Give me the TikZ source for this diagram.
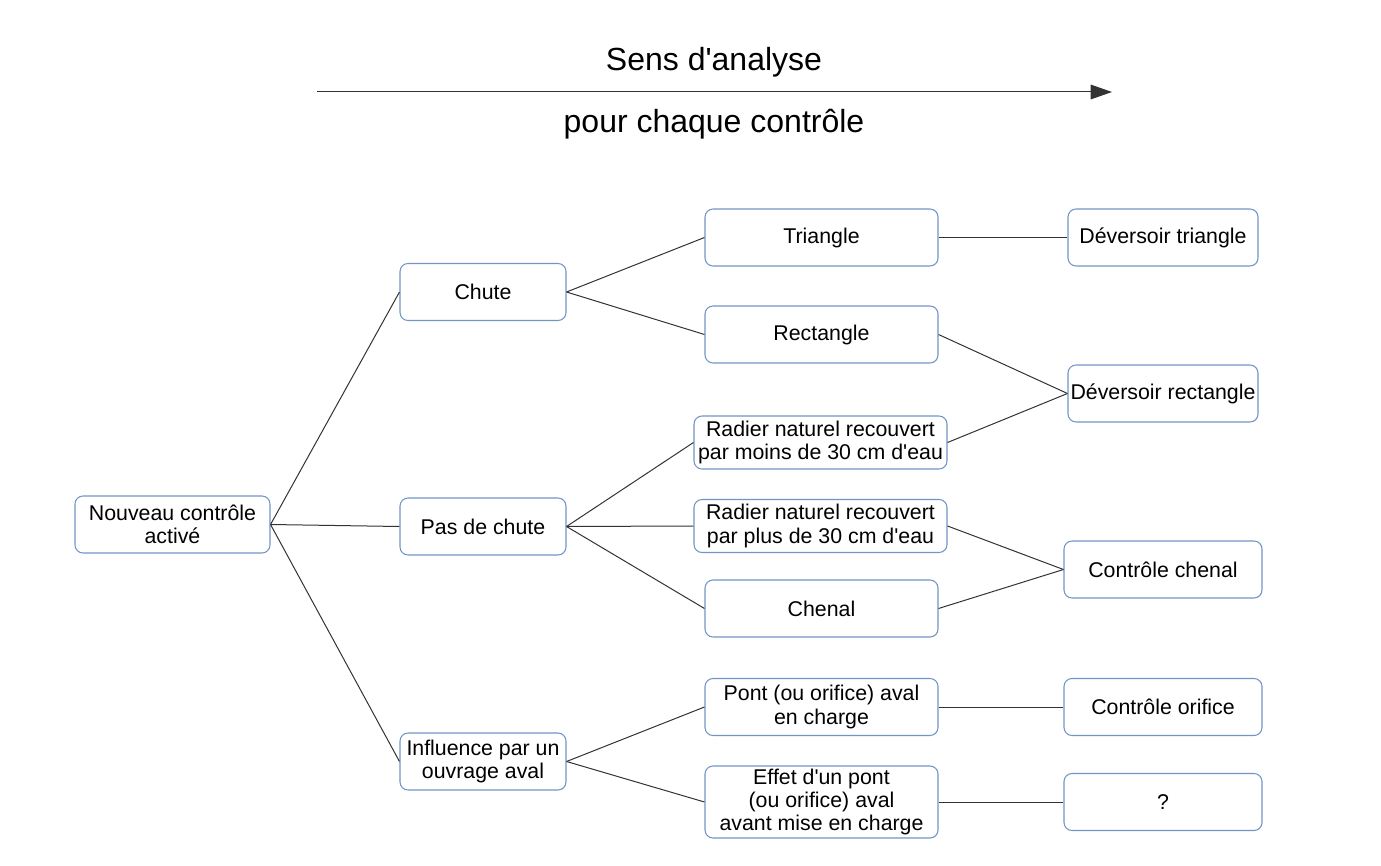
\documentclass[tikz,border=0pt]{standalone}
\usepackage{fontspec}
\setmainfont{Liberation Sans}[Ligatures=TeXReset]
\usetikzlibrary{arrows.meta}
\definecolor{boxblue}{HTML}{7295C7}
\definecolor{linegrey}{HTML}{333333}
\tikzset{
  box/.style={draw=boxblue, line width=0.8pt, rounded corners=6pt, fill=white,
    align=center, inner sep=0pt, font=\fontsize{16}{17.5}\selectfont,
    minimum height=42.75pt},
  wroot/.style={minimum width=146.25pt},
  wone/.style={minimum width=124.5pt},
  wtwo/.style={minimum width=174.75pt},
  wrad/.style={minimum width=189.75pt, minimum height=39.75pt},
  wthree/.style={minimum width=148.5pt},
  wdev/.style={minimum width=142.5pt},
  conn/.style={draw=linegrey, line width=0.75pt},
  title/.style={font=\fontsize{24}{28}\selectfont, inner sep=0pt}
}
\begin{document}
\begin{tikzpicture}[x=0.75pt,y=-0.75pt]
\useasboundingbox (0,0) rectangle (1381,866);
% header
\coordinate (as) at (317,92);
\coordinate (ae) at (1112,92);
\draw[conn, -{Triangle[length=16pt,width=11pt]}] (as) -- (ae);
\node[title] (t1) at (714,62) {Sens d'analyse};
\node[title] (t2) at (714,124) {pour chaque contrôle};
% nodes
\node[box,wroot] (root) at (172.5,524.5) {Nouveau contrôle\\activé};
\node[box,wone] (chute) at (483,292) {Chute};
\node[box,wone] (pas) at (483,526.5) {Pas de chute};
\node[box,wone] (infl) at (483,761.5) {Influence par un\\ouvrage aval};
\node[box,wtwo] (tri) at (821.5,237.5) {Triangle};
\node[box,wtwo] (rect) at (821.5,334.5) {Rectangle};
\node[box,wrad] (rmoins) at (820.5,442.5) {Radier naturel recouvert\\par moins de 30 cm d'eau};
\node[box,wrad] (rplus) at (820.5,526) {Radier naturel recouvert\\par plus de 30 cm d'eau};
\node[box,wtwo] (chenal) at (821.5,608.5) {Chenal};
\node[box,wtwo] (pont) at (821.5,707) {Pont (ou orifice) aval\\en charge};
\node[box,wtwo,minimum height=54pt] (effet) at (821.5,802) {Effet d'un pont\\(ou orifice) aval\\avant mise en charge};
\node[box,wdev] (dtri) at (1163,237.5) {Déversoir triangle};
\node[box,wdev] (drect) at (1163,393.5) {Déversoir rectangle};
\node[box,wthree] (cchen) at (1163,569.5) {Contrôle chenal};
\node[box,wthree] (corif) at (1163,707) {Contrôle orifice};
\node[box,wthree] (q) at (1163,802) {?};
% connectors
\draw[conn] (root.east) -- (chute.west);
\draw[conn] (root.east) -- (pas.west);
\draw[conn] (root.east) -- (infl.west);
\draw[conn] (chute.east) -- (tri.west);
\draw[conn] (chute.east) -- (rect.west);
\draw[conn] (pas.east) -- (rmoins.west);
\draw[conn] (pas.east) -- (rplus.west);
\draw[conn] (pas.east) -- (chenal.west);
\draw[conn] (infl.east) -- (pont.west);
\draw[conn] (infl.east) -- (effet.west);
\draw[conn] (tri.east) -- (dtri.west);
\draw[conn] (rect.east) -- (drect.west);
\draw[conn] (rmoins.east) -- (drect.west);
\draw[conn] (rplus.east) -- (cchen.west);
\draw[conn] (chenal.east) -- (cchen.west);
\draw[conn] (pont.east) -- (corif.west);
\draw[conn] (effet.east) -- (q.west);
\end{tikzpicture}
\end{document}
